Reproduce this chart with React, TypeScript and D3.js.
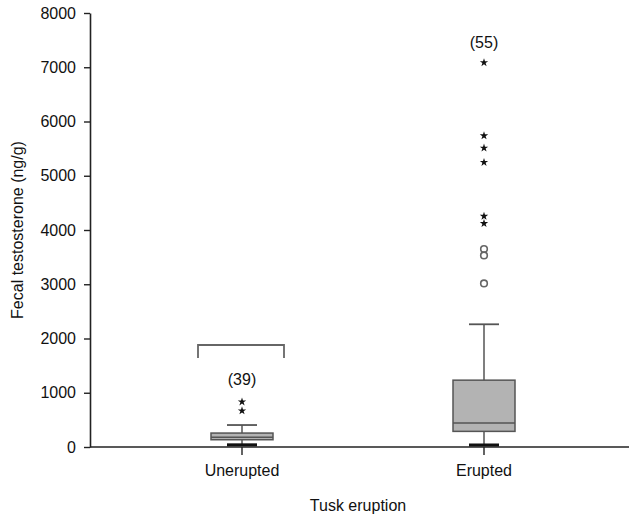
import { useEffect, useRef } from "react";
import * as d3 from "d3";

const categories = ["Unerupted", "Erupted"];
const counts = ["(39)", "(55)"];
const q1 = [134, 288];
const medians = [180, 441];
const q3 = [257, 1232];
const whiskerLow = [40, 37];
const whiskerHigh = [405, 2262];
const circleOutliers = [[], [3016, 3531, 3650]];
const starOutliers = [[668, 833], [4120, 4254, 5247, 5511, 5738, 7086]];
const countLabelY = [1250, 7450];
const yTicks = [0, 1000, 2000, 3000, 4000, 5000, 6000, 7000, 8000];
const bracket = { top: 1880, bottom: 1640 };

const W = 629;
const H = 516;

export default function App() {
  const svgRef = useRef<SVGSVGElement>(null);

  useEffect(() => {
    if (!svgRef.current) return;
    const svg = d3.select(svgRef.current);
    svg.selectAll("*").remove();

    const font = "Liberation Sans, Arial, Helvetica, sans-serif";
    const fs = 16;
    const y = d3.scaleLinear().domain([0, 8000]).range([447, 13]);
    const x = d3.scalePoint<string>().domain(categories).range([242, 484]);
    const axisX = 90;
    const boxW = 62;
    const capW = 30;

    // y axis
    const yAxis = svg
      .append("g")
      .attr("transform", `translate(${axisX},0)`)
      .call(
        d3
          .axisLeft(y)
          .tickValues(yTicks)
          .tickFormat(d3.format("d"))
          .tickSize(6)
          .tickPadding(8)
          .tickSizeOuter(0)
      );
    yAxis.select(".domain").attr("stroke", "#222").attr("stroke-width", 1.6);
    yAxis.selectAll(".tick line").attr("stroke", "#222").attr("stroke-width", 1.4);
    yAxis.selectAll("text").attr("font-family", font).attr("font-size", fs).attr("fill", "#111");

    // x axis line
    svg
      .append("line")
      .attr("x1", axisX)
      .attr("x2", W)
      .attr("y1", y(0))
      .attr("y2", y(0))
      .attr("stroke", "#222")
      .attr("stroke-width", 1.6);

    categories.forEach((c, i) => {
      const cx = x(c)!;

      // category tick
      svg
        .append("line")
        .attr("x1", cx)
        .attr("x2", cx)
        .attr("y1", y(0))
        .attr("y2", y(0) + 8)
        .attr("stroke", "#222")
        .attr("stroke-width", 1.4);

      svg
        .append("text")
        .attr("x", cx)
        .attr("y", 476)
        .attr("text-anchor", "middle")
        .attr("font-family", font)
        .attr("font-size", fs)
        .attr("fill", "#111")
        .text(c);

      // whisker
      svg
        .append("line")
        .attr("x1", cx)
        .attr("x2", cx)
        .attr("y1", y(whiskerLow[i]))
        .attr("y2", y(whiskerHigh[i]))
        .attr("stroke", "#555")
        .attr("stroke-width", 1.5);
      svg
        .append("line")
        .attr("x1", cx - capW / 2)
        .attr("x2", cx + capW / 2)
        .attr("y1", y(whiskerHigh[i]))
        .attr("y2", y(whiskerHigh[i]))
        .attr("stroke", "#555")
        .attr("stroke-width", 1.8);
      svg
        .append("line")
        .attr("x1", cx - capW / 2)
        .attr("x2", cx + capW / 2)
        .attr("y1", y(whiskerLow[i]))
        .attr("y2", y(whiskerLow[i]))
        .attr("stroke", "#111")
        .attr("stroke-width", 3);

      // box
      svg
        .append("rect")
        .attr("x", cx - boxW / 2)
        .attr("width", boxW)
        .attr("y", y(q3[i]))
        .attr("height", y(q1[i]) - y(q3[i]))
        .attr("fill", "#b3b3b3")
        .attr("stroke", "#555")
        .attr("stroke-width", 1.5);
      svg
        .append("line")
        .attr("x1", cx - boxW / 2)
        .attr("x2", cx + boxW / 2)
        .attr("y1", y(medians[i]))
        .attr("y2", y(medians[i]))
        .attr("stroke", "#555")
        .attr("stroke-width", 1.5);

      // outliers
      circleOutliers[i].forEach((v) => {
        svg
          .append("circle")
          .attr("cx", cx)
          .attr("cy", y(v))
          .attr("r", 3.3)
          .attr("fill", "none")
          .attr("stroke", "#666")
          .attr("stroke-width", 1.6);
      });
      const star = d3.symbol().type(d3.symbolStar).size(22);
      starOutliers[i].forEach((v) => {
        svg
          .append("path")
          .attr("d", star()!)
          .attr("transform", `translate(${cx},${y(v)})`)
          .attr("fill", "#111");
      });

      svg
        .append("text")
        .attr("x", cx)
        .attr("y", y(countLabelY[i]))
        .attr("dy", "0.35em")
        .attr("text-anchor", "middle")
        .attr("font-family", font)
        .attr("font-size", fs)
        .attr("fill", "#111")
        .text(counts[i]);
    });

    // bracket over Unerupted
    const bx = x("Unerupted")!;
    svg
      .append("path")
      .attr(
        "d",
        `M${bx - 44},${y(bracket.bottom)}V${y(bracket.top)}H${bx + 42}V${y(bracket.bottom)}`
      )
      .attr("fill", "none")
      .attr("stroke", "#666")
      .attr("stroke-width", 1.8);

    // axis titles
    svg
      .append("text")
      .attr("x", 358)
      .attr("y", 511)
      .attr("text-anchor", "middle")
      .attr("font-family", font)
      .attr("font-size", fs)
      .attr("fill", "#111")
      .text("Tusk eruption");

    svg
      .append("text")
      .attr("transform", `translate(23,230) rotate(-90)`)
      .attr("text-anchor", "middle")
      .attr("font-family", font)
      .attr("font-size", fs)
      .attr("fill", "#111")
      .text("Fecal testosterone (ng/g)");
  }, []);

  return (
    <svg
      ref={svgRef}
      width={W}
      height={H}
      style={{ position: "absolute", left: 0, top: 0, background: "#fff" }}
    />
  );
}
